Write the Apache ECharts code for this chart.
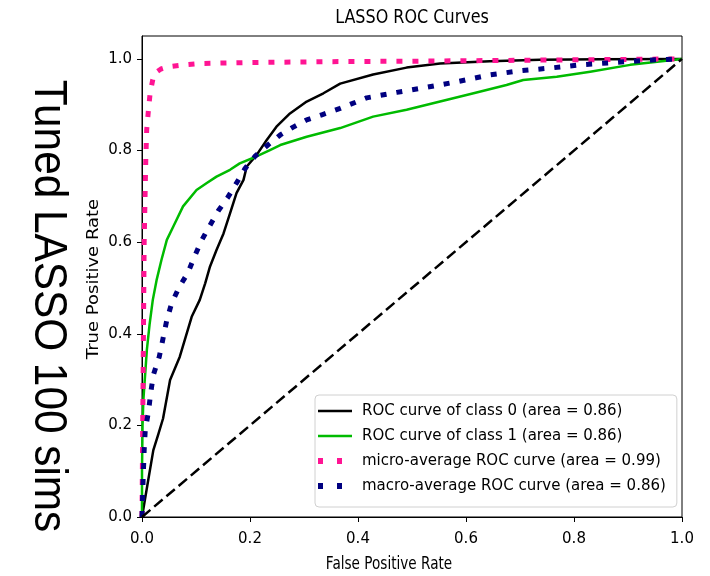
<!DOCTYPE html>
<html>
<head>
<meta charset="utf-8">
<script src="https://cdn.jsdelivr.net/npm/echarts@6/dist/echarts.min.js"></script>
<style>
  html, body { margin: 0; padding: 0; background: #fff; }
  #chart { width: 710px; height: 576px; }
</style>
</head>
<body>
<div id="chart"></div>
<script>
// Axis ticks
const xTicks = [0, 0.2, 0.4, 0.6, 0.8, 1.0];
const yTicks = [0, 0.2, 0.4, 0.6, 0.8, 1.0];

// ROC curve of class 0
const class0Fpr = [0, 0.005, 0.01, 0.021, 0.03, 0.039, 0.052, 0.07, 0.092, 0.107, 0.117, 0.126, 0.138, 0.151, 0.163, 0.175, 0.188, 0.194, 0.212, 0.231, 0.249, 0.274, 0.305, 0.336, 0.367, 0.428, 0.49, 0.552, 0.644, 0.737, 0.85, 1];
const class0Tpr = [0, 0.035, 0.07, 0.146, 0.18, 0.215, 0.299, 0.35, 0.437, 0.474, 0.51, 0.547, 0.583, 0.619, 0.663, 0.707, 0.736, 0.765, 0.79, 0.823, 0.852, 0.881, 0.907, 0.925, 0.946, 0.966, 0.981, 0.99, 0.995, 0.998, 0.999, 1];

// ROC curve of class 1
const class1Fpr = [0, 0, 0.001, 0.0025, 0.009, 0.014, 0.02, 0.027, 0.036, 0.046, 0.058, 0.076, 0.101, 0.12, 0.138, 0.163, 0.181, 0.212, 0.237, 0.256, 0.305, 0.367, 0.428, 0.49, 0.552, 0.614, 0.675, 0.706, 0.768, 0.83, 0.904, 0.95, 1];
const class1Tpr = [0, 0.1, 0.2, 0.255, 0.365, 0.42, 0.474, 0.517, 0.561, 0.605, 0.634, 0.678, 0.714, 0.729, 0.743, 0.758, 0.772, 0.787, 0.801, 0.812, 0.83, 0.849, 0.874, 0.889, 0.907, 0.925, 0.943, 0.954, 0.961, 0.972, 0.987, 0.993, 1];

// micro-average ROC curve
const microFpr = [0, 0.002, 0.004, 0.007, 0.0087, 0.0117, 0.015, 0.02, 0.024, 0.035, 0.049, 0.076, 0.107, 0.194, 0.348, 0.5, 0.6, 0.8, 0.9, 1];
const microTpr = [0, 0.3, 0.6, 0.78, 0.845, 0.885, 0.925, 0.955, 0.969, 0.978, 0.983, 0.987, 0.99, 0.992, 0.994, 0.995, 0.996, 0.998, 0.999, 1];

// macro-average ROC curve
const macroFpr = [0, 0.002, 0.004, 0.006, 0.012, 0.016, 0.021, 0.032, 0.039, 0.046, 0.055, 0.069, 0.085, 0.097, 0.11, 0.125, 0.141, 0.158, 0.175, 0.191, 0.209, 0.231, 0.256, 0.28, 0.305, 0.333, 0.367, 0.416, 0.472, 0.527, 0.583, 0.644, 0.70, 0.756, 0.811, 0.872, 0.95, 1];
const macroTpr = [0, 0.08, 0.146, 0.19, 0.23, 0.27, 0.31, 0.35, 0.39, 0.43, 0.467, 0.502, 0.533, 0.568, 0.603, 0.635, 0.668, 0.696, 0.729, 0.761, 0.787, 0.81, 0.834, 0.851, 0.867, 0.878, 0.892, 0.915, 0.927, 0.938, 0.95, 0.965, 0.974, 0.98, 0.987, 0.992, 0.998, 1];

// Chance line
const chanceX = [0, 1];
const chanceY = [0, 1];

const seriesNames = [
  'ROC curve of class 0 (area = 0.86)',
  'ROC curve of class 1 (area = 0.86)',
  'micro-average ROC curve (area = 0.99)',
  'macro-average ROC curve (area = 0.86)'
];

const zip = (xs, ys) => xs.map((x, i) => [x, ys[i]]);

const FONT = "'DejaVu Sans', Verdana, sans-serif";

// Legend handles: a short solid bar, or two square dots
const solidIcon = 'path://M0,0L0,0M0,1.75H34V4.25H0ZM34,6L34,6';
const dotIcon = 'path://M0,0H5V6H0ZM19,0H24V6H19ZM34,6L34,6';

function curve(name, xs, ys, color, width, dash) {
  return {
    type: 'line',
    name: name,
    data: zip(xs, ys),
    showSymbol: false,
    symbol: 'none',
    smooth: false,
    clip: true,
    lineStyle: { color: color, width: width, type: dash, cap: 'butt', join: 'round' },
    itemStyle: { color: color },
    emphasis: { disabled: true },
    z: 2
  };
}

const chart = echarts.init(document.getElementById('chart'), null, { renderer: 'canvas' });

chart.setOption({
  animation: false,
  backgroundColor: '#fff',
  grid: {
    left: 142, top: 36, width: 540, height: 481,
    show: true, borderColor: '#000', borderWidth: 1, backgroundColor: 'transparent'
  },
  xAxis: {
    type: 'value', min: 0, max: 1, interval: 0.2,
    axisLine: { show: true, lineStyle: { color: '#000', width: 1 } },
    axisTick: { show: true, inside: false, length: 5, lineStyle: { color: '#000', width: 1 }, customValues: xTicks },
    axisLabel: { color: '#000', fontSize: 15, fontFamily: FONT, margin: 15, customValues: xTicks,
      formatter: v => v.toFixed(1) },
    splitLine: { show: false }
  },
  yAxis: {
    type: 'value', min: 0, max: 1.05, interval: 0.2,
    axisLine: { show: true, lineStyle: { color: '#000', width: 1 } },
    axisTick: { show: true, inside: false, length: 5, lineStyle: { color: '#000', width: 1 }, customValues: yTicks },
    axisLabel: { color: '#000', fontSize: 15, fontFamily: FONT, margin: 10, customValues: yTicks,
      formatter: v => v.toFixed(1) },
    splitLine: { show: false }
  },
  legend: {
    orient: 'vertical',
    left: 315, top: 395,
    padding: [7, 11, 12, 3],
    itemGap: 7,
    itemWidth: 34, itemHeight: 6,
    symbolKeepAspect: false,
    backgroundColor: 'rgba(255,255,255,0.85)',
    borderColor: '#d0d0d0', borderWidth: 1, borderRadius: 4,
    textStyle: { color: '#000', fontSize: 15, fontFamily: FONT, lineHeight: 18, padding: [0, 0, 0, 5] },
    selectedMode: false,
    data: [
      { name: seriesNames[0], icon: solidIcon },
      { name: seriesNames[1], icon: solidIcon },
      { name: seriesNames[2], icon: dotIcon },
      { name: seriesNames[3], icon: dotIcon }
    ]
  },
  graphic: [
    { type: 'text', x: 412, y: 18, scaleX: 0.8,
      style: { text: 'LASSO ROC Curves', font: "20px 'DejaVu Sans'", fill: '#000', align: 'center', verticalAlign: 'middle' } },
    { type: 'text', x: 389, y: 565, scaleX: 0.8,
      style: { text: 'False Positive Rate', font: "17px 'DejaVu Sans'", fill: '#000', align: 'center', verticalAlign: 'middle' } },
    { type: 'text', x: 94, y: 279, rotation: Math.PI / 2, scaleY: 0.85,
      style: { text: 'True Positive Rate', font: "18px 'DejaVu Sans'", fill: '#000', align: 'center', verticalAlign: 'middle' } },
    { type: 'text', x: 48, y: 306, rotation: -Math.PI / 2, scaleX: 0.92,
      style: { text: 'Tuned LASSO 100 sims', font: "46px 'Liberation Sans', Arial, sans-serif", fill: '#000', align: 'center', verticalAlign: 'middle' } }
  ],
  series: [
    curve(seriesNames[0], class0Fpr, class0Tpr, '#000000', 2.5, 'solid'),
    curve(seriesNames[1], class1Fpr, class1Tpr, '#00bb00', 2.5, 'solid'),
    curve(seriesNames[2], microFpr, microTpr, '#ff1493', 5, [6, 10]),
    curve(seriesNames[3], macroFpr, macroTpr, '#000080', 5, [6, 10]),
    Object.assign(curve('chance', chanceX, chanceY, '#000000', 2.5, [11, 5]), { legendHoverLink: false })
  ]
});
</script>
</body>
</html>
